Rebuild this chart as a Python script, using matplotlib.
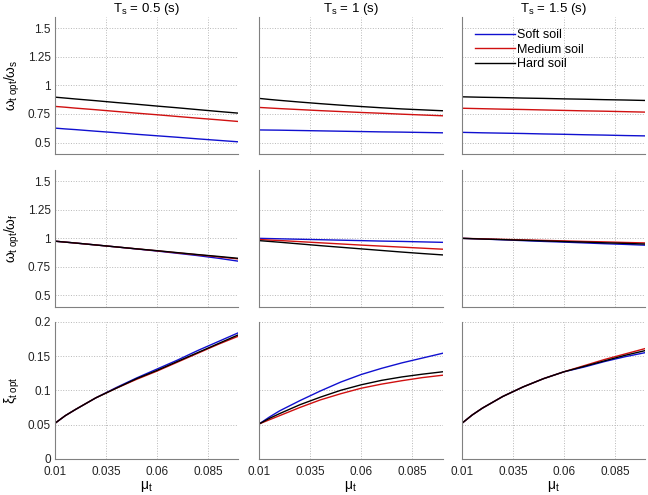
import numpy as np
import matplotlib
matplotlib.use("Agg")
import matplotlib.pyplot as plt

plt.rcParams['font.family'] = ['Liberation Sans', 'DejaVu Sans']
plt.rcParams['mathtext.fontset'] = 'custom'
plt.rcParams['mathtext.rm'] = 'Liberation Sans'
plt.rcParams['mathtext.it'] = 'Liberation Sans'

mu = [0.01, 0.015, 0.02, 0.03, 0.04, 0.05, 0.06, 0.07, 0.08, 0.09, 0.10]
periods = ['0.5', '1', '1.5']
soils = ['Soft soil', 'Medium soil', 'Hard soil']
colors = ['#1010d0', '#d01010', 'black']

# row 1: omega_t opt / omega_s   (soft, medium, hard) for each Ts
ws_05 = [[0.626, 0.619, 0.613, 0.599, 0.586, 0.572, 0.559, 0.546, 0.532, 0.519, 0.506],
         [0.816, 0.809, 0.801, 0.787, 0.772, 0.757, 0.743, 0.728, 0.713, 0.699, 0.684],
         [0.897, 0.889, 0.881, 0.866, 0.850, 0.835, 0.819, 0.804, 0.788, 0.772, 0.757]]
ws_10 = [[0.610, 0.609, 0.608, 0.605, 0.602, 0.599, 0.596, 0.593, 0.591, 0.588, 0.585],
         [0.807, 0.802, 0.797, 0.788, 0.779, 0.771, 0.763, 0.756, 0.748, 0.741, 0.734],
         [0.886, 0.877, 0.869, 0.854, 0.840, 0.827, 0.815, 0.804, 0.794, 0.786, 0.778]]
ws_15 = [[0.589, 0.587, 0.585, 0.582, 0.579, 0.575, 0.572, 0.568, 0.565, 0.561, 0.558],
         [0.800, 0.798, 0.796, 0.792, 0.789, 0.785, 0.781, 0.777, 0.774, 0.770, 0.766],
         [0.900, 0.898, 0.896, 0.893, 0.889, 0.886, 0.882, 0.879, 0.875, 0.872, 0.868]]

# row 2: omega_t opt / omega_f
wf_05 = [[0.975, 0.967, 0.959, 0.942, 0.925, 0.907, 0.889, 0.869, 0.849, 0.826, 0.800],
         [0.975, 0.967, 0.959, 0.942, 0.925, 0.908, 0.891, 0.873, 0.856, 0.838, 0.820],
         [0.975, 0.967, 0.959, 0.942, 0.925, 0.908, 0.892, 0.875, 0.858, 0.842, 0.825]]
wf_10 = [[1.000, 0.998, 0.996, 0.992, 0.988, 0.984, 0.980, 0.976, 0.973, 0.969, 0.965],
         [0.990, 0.985, 0.981, 0.971, 0.961, 0.951, 0.941, 0.932, 0.923, 0.914, 0.905],
         [0.980, 0.973, 0.966, 0.951, 0.936, 0.922, 0.908, 0.894, 0.880, 0.867, 0.855]]
wf_15 = [[1.000, 0.997, 0.994, 0.987, 0.980, 0.973, 0.967, 0.960, 0.953, 0.947, 0.940],
         [1.000, 0.998, 0.996, 0.991, 0.987, 0.982, 0.978, 0.973, 0.969, 0.964, 0.960],
         [1.000, 0.997, 0.994, 0.989, 0.983, 0.978, 0.972, 0.967, 0.961, 0.956, 0.950]]

# row 3: xi_t opt
xi_05 = [[0.052, 0.063, 0.072, 0.089, 0.104, 0.118, 0.131, 0.144, 0.158, 0.171, 0.184],
         [0.052, 0.063, 0.072, 0.089, 0.103, 0.116, 0.128, 0.141, 0.154, 0.167, 0.179],
         [0.052, 0.063, 0.072, 0.089, 0.103, 0.117, 0.129, 0.142, 0.155, 0.168, 0.181]]
xi_10 = [[0.051, 0.061, 0.070, 0.085, 0.099, 0.112, 0.123, 0.132, 0.140, 0.147, 0.154],
         [0.051, 0.057, 0.063, 0.075, 0.086, 0.095, 0.103, 0.109, 0.114, 0.1185, 0.122],
         [0.051, 0.059, 0.066, 0.079, 0.090, 0.100, 0.108, 0.1145, 0.1195, 0.1235, 0.127]]
xi_15 = [[0.052, 0.064, 0.074, 0.091, 0.105, 0.117, 0.127, 0.134, 0.142, 0.149, 0.155],
         [0.052, 0.064, 0.074, 0.091, 0.105, 0.117, 0.127, 0.136, 0.145, 0.153, 0.161],
         [0.052, 0.064, 0.074, 0.091, 0.105, 0.117, 0.127, 0.135, 0.143, 0.151, 0.158]]

rows = [[ws_05, ws_10, ws_15], [wf_05, wf_10, wf_15], [xi_05, xi_10, xi_15]]
ylims = [(0.4, 1.6), (0.4, 1.6), (0, 0.2)]
yticks = [[0.5, 0.75, 1, 1.25, 1.5], [0.5, 0.75, 1, 1.25, 1.5], [0, 0.05, 0.1, 0.15, 0.2]]
ylabels = [r'$\omega_{\mathrm{t\ opt}}/\omega_{\mathrm{s}}$',
           r'$\omega_{\mathrm{t\ opt}}/\omega_{\mathrm{f}}$',
           r'$\xi_{\mathrm{t\ opt}}$']
xticks = [0.01, 0.035, 0.06, 0.085]

fig = plt.figure(figsize=(6.48, 4.95), dpi=100)
lefts = [0.085, 0.400, 0.713]
bottoms = [0.689, 0.380, 0.073]
w, h = 0.283, 0.277

for r in range(3):
    for c in range(3):
        ax = fig.add_axes([lefts[c], bottoms[r], w, h])
        for k in range(3):
            ax.plot(mu, rows[r][c][k], color=colors[k], lw=1.0, label=soils[k])
        ax.set_xlim(0.01, 0.1)
        ax.set_ylim(*ylims[r])
        ax.set_xticks(xticks)
        ax.set_yticks(yticks[r])
        ax.grid(True, linestyle=':', color='#b8b8b8', lw=0.7)
        for s in ['top', 'right']:
            ax.spines[s].set_visible(False)
        for s in ['left', 'bottom']:
            ax.spines[s].set_color('#808080')
        ax.tick_params(length=0, labelsize=8.5, colors='#222222')
        ax.tick_params(axis='x', pad=5)
        ax.tick_params(axis='y', pad=3)
        if c == 0:
            ax.set_yticklabels([('%g' % v) for v in yticks[r]])
            ax.set_ylabel(ylabels[r], fontsize=10, labelpad=4)
        else:
            ax.set_yticklabels([])
        if r == 2:
            ax.set_xticklabels([('%g' % v) for v in xticks])
            ax.set_xlabel(r'$\mathrm{\mu_t}$', fontsize=10, labelpad=1)
        else:
            ax.set_xticklabels([])
        if r == 0:
            ax.set_title(r'$\mathrm{T_s}$ = ' + periods[c] + ' (s)', fontsize=9.5, pad=2)
        if r == 0 and c == 2:
            ax.legend(loc='upper left', frameon=False, fontsize=9, handlelength=3.2,
                      borderaxespad=0.6, labelspacing=0.2, handletextpad=0.2,
                      bbox_to_anchor=(0.0, 1.0))

fig.savefig('out.png', dpi=100)
